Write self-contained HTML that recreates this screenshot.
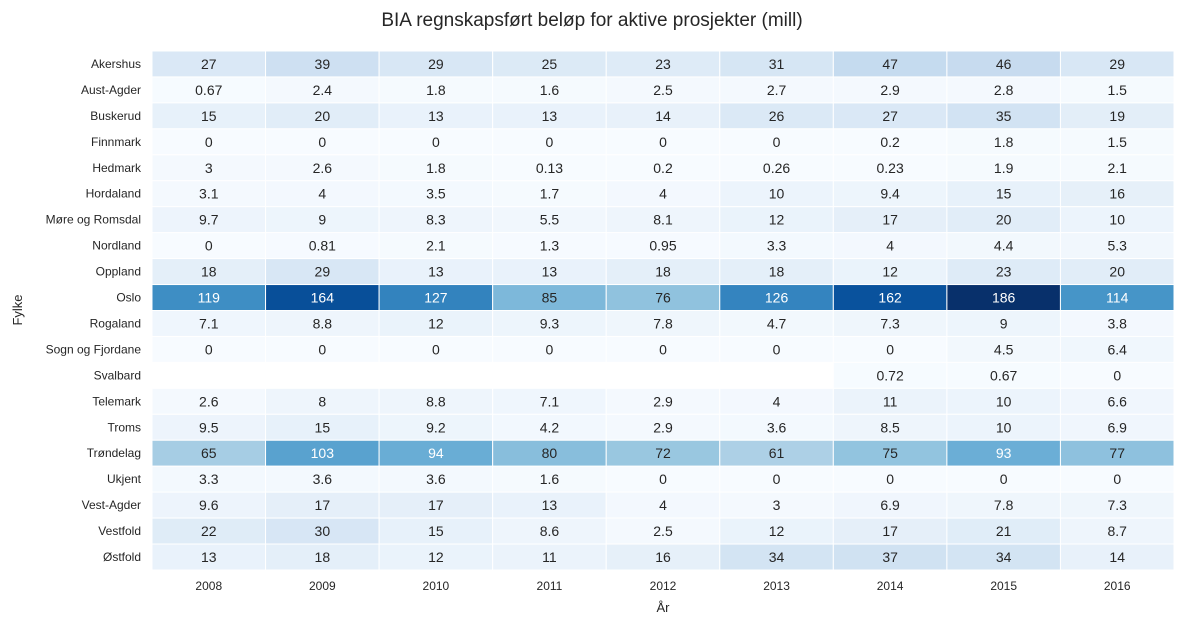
<!DOCTYPE html>
<html><head><meta charset="utf-8"><style>
body{margin:0;background:#fff;font-family:"Liberation Sans","DejaVu Sans",sans-serif;}
svg text{font-family:"Liberation Sans","DejaVu Sans",sans-serif;}
</style></head><body>
<svg id="chart" width="1184" height="626">
<text x="592" y="26" font-size="19" text-anchor="middle" fill="#262626">BIA regnskapsført beløp for aktive prosjekter (mill)</text>
<text x="663" y="612" font-size="13" text-anchor="middle" fill="#262626">År</text>
<text x="22" y="310" font-size="13" text-anchor="middle" fill="#262626" transform="rotate(-90 22 310)">Fylke</text>
<g id="cells"></g>
</svg>
<script>
const years=["2008","2009","2010","2011","2012","2013","2014","2015","2016"];
const counties=["Akershus","Aust-Agder","Buskerud","Finnmark","Hedmark","Hordaland","Møre og Romsdal","Nordland","Oppland","Oslo","Rogaland","Sogn og Fjordane","Svalbard","Telemark","Troms","Trøndelag","Ukjent","Vest-Agder","Vestfold","Østfold"];
const values=[
[27,39,29,25,23,31,47,46,29],
[0.67,2.4,1.8,1.6,2.5,2.7,2.9,2.8,1.5],
[15,20,13,13,14,26,27,35,19],
[0,0,0,0,0,0,0.2,1.8,1.5],
[3,2.6,1.8,0.13,0.2,0.26,0.23,1.9,2.1],
[3.1,4,3.5,1.7,4,10,9.4,15,16],
[9.7,9,8.3,5.5,8.1,12,17,20,10],
[0,0.81,2.1,1.3,0.95,3.3,4,4.4,5.3],
[18,29,13,13,18,18,12,23,20],
[119,164,127,85,76,126,162,186,114],
[7.1,8.8,12,9.3,7.8,4.7,7.3,9,3.8],
[0,0,0,0,0,0,0,4.5,6.4],
[null,null,null,null,null,null,0.72,0.67,0],
[2.6,8,8.8,7.1,2.9,4,11,10,6.6],
[9.5,15,9.2,4.2,2.9,3.6,8.5,10,6.9],
[65,103,94,80,72,61,75,93,77],
[3.3,3.6,3.6,1.6,0,0,0,0,0],
[9.6,17,17,13,4,3,6.9,7.8,7.3],
[22,30,15,8.6,2.5,12,17,21,8.7],
[13,18,12,11,16,34,37,34,14]];
const vmax=186;
const stops=["#f7fbff","#deebf7","#c6dbef","#9ecae1","#6baed6","#4292c6","#2171b5","#08519c","#08306b"].map(h=>[1,3,5].map(i=>parseInt(h.substr(i,2),16)));
function cmap(t){t=Math.max(0,Math.min(1,t))*8;const i=Math.min(7,Math.floor(t)),f=t-i;return stops[i].map((c,k)=>c+(stops[i+1][k]-c)*f);}
const x0=152,x1=1174,y0=51,y1=570;
const cw=(x1-x0)/years.length,ch=(y1-y0)/counties.length;
const xs=i=>x0+i*cw, ys=j=>y0+j*ch;
const g=document.getElementById('cells'),svg=document.getElementById('chart'),NS="http://www.w3.org/2000/svg";
counties.forEach((c,j)=>{
 const t=document.createElementNS(NS,'text');
 
 
 t.setAttribute('x',x0-11);t.setAttribute('y',ys(j)+ch/2+4);t.setAttribute('font-size','12');t.setAttribute('text-anchor','end');t.setAttribute('fill','#262626');t.textContent=c;svg.appendChild(t);
 years.forEach((y,i)=>{
  const v=values[j][i]; if(v===null) return;
  const col=cmap(v/vmax);
  const r=document.createElementNS(NS,'rect');
  
  
  r.setAttribute('x',xs(i));r.setAttribute('y',ys(j));r.setAttribute('width',cw);r.setAttribute('height',ch);
  r.setAttribute('fill','rgb('+col.map(Math.round).join(',')+')');r.setAttribute('stroke','#fff');r.setAttribute('stroke-width','1');
  g.appendChild(r);
  const tx=document.createElementNS(NS,'text');
  
  
  tx.setAttribute('x',xs(i)+cw/2);tx.setAttribute('y',ys(j)+ch/2+5);tx.setAttribute('font-size','14');tx.setAttribute('text-anchor','middle');
  tx.setAttribute('fill',(v/vmax)>0.48?'#ffffff':'#262626');tx.textContent=String(v);g.appendChild(tx);
 });
});
years.forEach((y,i)=>{
 const t=document.createElementNS(NS,'text');
 
 
 t.setAttribute('x',xs(i)+cw/2);t.setAttribute('y',y1+20);t.setAttribute('font-size','12');t.setAttribute('text-anchor','middle');t.setAttribute('fill','#262626');t.textContent=y;svg.appendChild(t);
});
</script>
</body></html>
